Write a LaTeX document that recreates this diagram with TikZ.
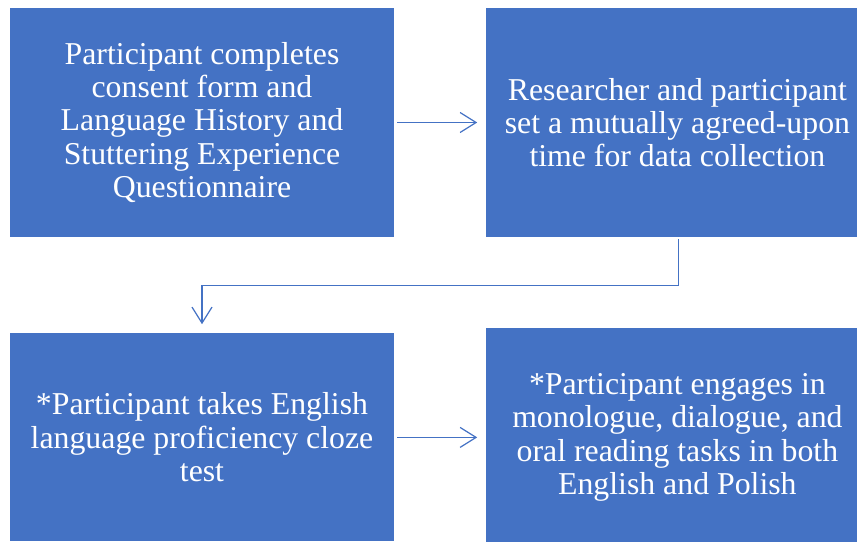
\documentclass[tikz,border=0pt]{standalone}
\usepackage{fontspec}
\setmainfont{Liberation Serif}
\usetikzlibrary{arrows.meta, positioning}

\definecolor{stepblue}{HTML}{4472C4}

\tikzset{
  stepbox/.style={draw=none, fill=stepblue, text=white, align=center,
    inner sep=0pt, font=\fontsize{31.8}{33.3}\selectfont},
  flow/.style={-{Straight Barb[length=16pt, width=20pt]}, draw=stepblue,
    line width=1.2pt}
}

\begin{document}
\begin{tikzpicture}[x=1pt, y=1pt]
    \useasboundingbox (0,0) rectangle (857,-541);

    \node[stepbox, minimum width=384pt, minimum height=229pt] (consent) at (202,-122.5)
      {Participant completes\\consent form and\\Language History and\\Stuttering Experience\\Questionnaire};
    % right column runs past the page edge, cut off there
    \node[stepbox, minimum width=382pt, minimum height=229pt, right = 92pt of consent] (schedule)
      {Researcher and participant\\set a mutually agreed-upon\\time for data collection};
    \node[stepbox, minimum width=384pt, minimum height=208pt, below = 96pt of consent] (cloze)
      {*Participant takes English\\language proficiency cloze\\test};
    \node[stepbox, minimum width=382pt, minimum height=218pt, right = 92pt of cloze] (tasks)
      {*Participant engages in\\monologue, dialogue, and\\oral reading tasks in both\\English and Polish};

    \draw[flow, shorten <=3pt, shorten >=9pt] (consent.east) -- (schedule.west);
    \draw[flow, shorten <=2pt, shorten >=9pt] ([xshift=1pt]schedule.south) -- ++(0,-48) -| (cloze.north);
    \draw[flow, shorten <=3pt, shorten >=9pt] (cloze.east) -- (tasks.west);
\end{tikzpicture}
\end{document}
